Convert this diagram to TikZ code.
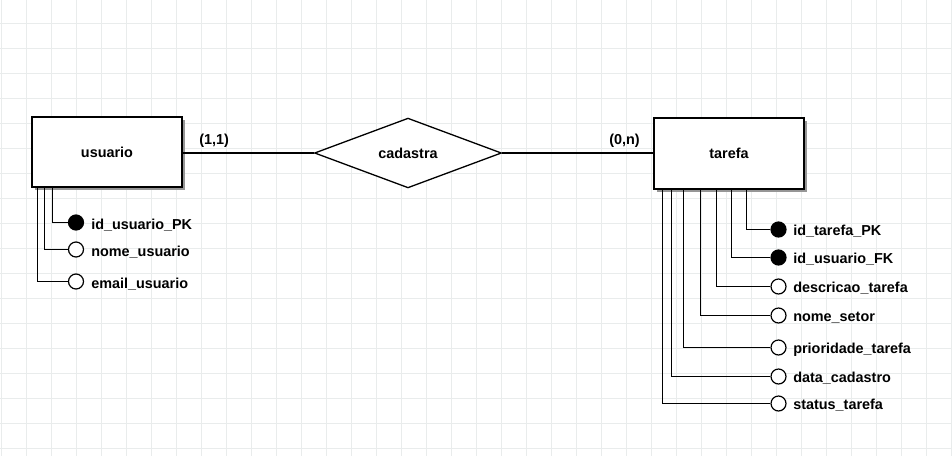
\documentclass[tikz,border=0pt]{standalone}
\usepackage{fontspec}
\setmainfont{Liberation Sans}
\usetikzlibrary{shapes.geometric,shadows}
\definecolor{gridline}{RGB}{233,236,236}
\definecolor{shade}{RGB}{150,150,150}
\begin{document}
\begin{tikzpicture}[x=1pt,y=-1pt,
  every node/.style={font=\fontsize{14.4}{16}\selectfont\bfseries},
  entity/.style={draw=black, line width=1.4pt, fill=white,
    minimum width=150pt, minimum height=70pt, inner sep=0pt,
    general shadow={shadow xshift=3pt, shadow yshift=-3pt, fill=shade}},
  relation/.style={diamond, draw=black, line width=1.3pt, fill=white,
    minimum width=187pt, minimum height=62pt, inner sep=0pt},
  link/.style={draw=black, line width=1.3pt},
  keyattr/.style={circle, draw=black, fill=black, line width=1.2pt,
    minimum size=15pt, inner sep=0pt},
  attr/.style={circle, draw=black, fill=white, line width=1.2pt,
    minimum size=15pt, inner sep=0pt},
  attrname/.style={anchor=base west, inner sep=0pt},
  card/.style={anchor=south, inner sep=0pt, yshift=4.5pt}]

% canvas and background grid
\fill[white] (0,0) rectangle (952,456);
\useasboundingbox (0,0) rectangle (952,456);
\foreach \gx in {1.5,26.5,...,952}
  \draw[gridline, line width=0.8pt] (\gx,0) -- (\gx,456);
\foreach \gy in {-1.7,23.3,...,456}
  \draw[gridline, line width=0.8pt] (0,\gy) -- (952,\gy);

% entities and relationship
\node[entity] (usuario) at (107,152) {usuario};
\node[entity, minimum height=71pt] (tarefa) at (729,153.5) {tarefa};
\node[relation] (cadastra) at (408,153) {cadastra};

\draw[link] (usuario.east |- cadastra.west) -- node[card, pos=0.24] (cardU) {(1,1)} (cadastra.west);
\draw[link] (cadastra.east) -- node[card, pos=0.81] (cardT) {(0,n)} (tarefa.west |- cadastra.east);

% attributes of usuario
\node[keyattr] (u1) at (76,222.5) {};
\node[attr]    (u2) at (76,249.5) {};
\node[attr]    (u3) at (76,281.5) {};
\node[attrname] (u1t) at ([xshift=7pt,yshift=-6.5pt]u1.east) {id\_usuario\_PK};
\node[attrname] (u2t) at ([xshift=7pt,yshift=-6.5pt]u2.east) {nome\_usuario};
\node[attrname] (u3t) at ([xshift=7pt,yshift=-6.5pt]u3.east) {email\_usuario};
\draw[link] ([xshift=21pt]usuario.south west) |- (u1.west);
\draw[link] ([xshift=13pt]usuario.south west) |- (u2.west);
\draw[link] ([xshift=6pt]usuario.south west)  |- (u3.west);

% attributes of tarefa
\node[keyattr] (t1) at (778.5,229.5) {};
\node[keyattr] (t2) at (778.5,257.5) {};
\node[attr]    (t3) at (778.5,286.5) {};
\node[attr]    (t4) at (778.5,315.5) {};
\node[attr]    (t5) at (778.5,347.5) {};
\node[attr]    (t6) at (778.5,376.5) {};
\node[attr]    (t7) at (778.5,403.5) {};
\node[attrname] (t1t) at ([xshift=6.5pt,yshift=-6pt]t1.east) {id\_tarefa\_PK};
\node[attrname] (t2t) at ([xshift=6.5pt,yshift=-6pt]t2.east) {id\_usuario\_FK};
\node[attrname] (t3t) at ([xshift=6.5pt,yshift=-6pt]t3.east) {descricao\_tarefa};
\node[attrname] (t4t) at ([xshift=6.5pt,yshift=-6pt]t4.east) {nome\_setor};
\node[attrname] (t5t) at ([xshift=6.5pt,yshift=-6pt]t5.east) {prioridade\_tarefa};
\node[attrname] (t6t) at ([xshift=6.5pt,yshift=-6pt]t6.east) {data\_cadastro};
\node[attrname] (t7t) at ([xshift=6.5pt,yshift=-6pt]t7.east) {status\_tarefa};
\draw[link] ([xshift=93pt]tarefa.south west) |- (t1.west);
\draw[link] ([xshift=78pt]tarefa.south west) |- (t2.west);
\draw[link] ([xshift=63pt]tarefa.south west) |- (t3.west);
\draw[link] ([xshift=47pt]tarefa.south west) |- (t4.west);
\draw[link] ([xshift=30pt]tarefa.south west) |- (t5.west);
\draw[link] ([xshift=18pt]tarefa.south west) |- (t6.west);
\draw[link] ([xshift=9pt]tarefa.south west)  |- (t7.west);
\end{tikzpicture}
\end{document}
